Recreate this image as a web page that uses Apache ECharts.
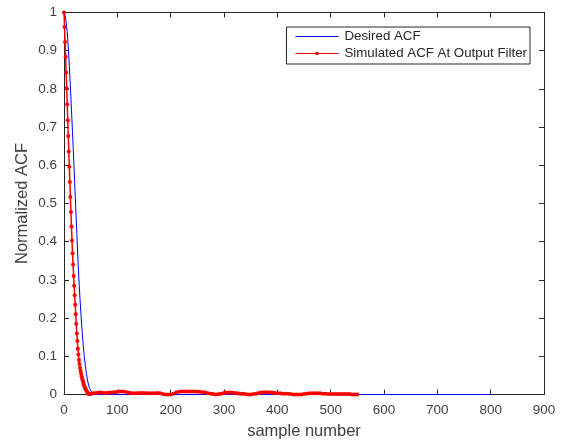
<!DOCTYPE html>
<html>
<head>
<meta charset="utf-8">
<script src="https://cdn.jsdelivr.net/npm/echarts@6/dist/echarts.min.js"></script>
<style>html,body{margin:0;padding:0;background:#fff}#c{width:565px;height:441px}</style>
</head>
<body>
<div id="c"></div>
<script>
// Desired ACF: [sample, value]
const desiredSamples = [0,2,4,6,8,10,12,14,16,18,20,22,24,26,28,30,32,34,36,38,40,42,44,46,48,50,52,54,56,58,800];
const desiredValues  = [1,0.993,0.975,0.95,0.91,0.86,0.805,0.745,0.685,0.62,0.555,0.49,0.425,0.36,0.30,0.25,0.205,0.165,0.13,0.10,0.075,0.055,0.038,0.025,0.016,0.01,0.006,0.003,0.001,0,0];

// Simulated ACF: decay part (one value per sample 0..49)
const simHeadSamples = [0,1,2,3,4,5,6,7,8,9,10,11,12,13,14,15,16,17,18,19,20,21,22,23,24,25,26,27,28,29,30,31,32,33,34,35,36,37,38,39,40,41,42,43,44,45,46,47,48,49];
const simHeadValues  = [1,0.962,0.923,0.884,0.843,0.802,0.76,0.718,0.677,0.636,0.596,0.556,0.517,0.478,0.44,0.403,0.37,0.34,0.31,0.285,0.26,0.235,0.21,0.185,0.16,0.14,0.12,0.105,0.09,0.08,0.07,0.062,0.055,0.048,0.042,0.037,0.032,0.027,0.023,0.019,0.016,0.013,0.01,0.008,0.006,0.004,0.002,0.001,0.001,0.001];
// Simulated ACF: tail (every 5 samples, 50..550)
const simTailSamples = [50,55,60,65,70,75,80,85,90,95,100,105,110,115,120,125,130,135,140,145,150,155,160,165,170,175,180,185,190,195,200,205,210,215,220,225,230,235,240,245,250,255,260,265,270,275,280,285,290,295,300,305,310,315,320,325,330,335,340,345,350,355,360,365,370,375,380,385,390,395,400,405,410,415,420,425,430,435,440,445,450,455,460,465,470,475,480,485,490,495,500,505,510,515,520,525,530,535,540,545,550];
const simTailValues  = [0.001,0.003,0.004,0.005,0.005,0.004,0.004,0.005,0.005,0.006,0.007,0.008,0.008,0.007,0.005,0.004,0.003,0.003,0.004,0.004,0.004,0.003,0.003,0.003,0.003,0.004,0.003,0.001,0,0,0,0.002,0.005,0.007,0.008,0.008,0.008,0.008,0.008,0.008,0.007,0.007,0.006,0.005,0.003,0.002,0.001,0,0.001,0.002,0.004,0.005,0.005,0.005,0.004,0.003,0.002,0.002,0.001,0,0,0.001,0.002,0.004,0.005,0.006,0.006,0.006,0.005,0.004,0.003,0.003,0.002,0.002,0.002,0.001,0,0,0,0,0.001,0.002,0.003,0.003,0.003,0.003,0.003,0.002,0.002,0.001,0.001,0.001,0.001,0.001,0.001,0.001,0.001,0.001,0,0,0];

const xTicks = [0,100,200,300,400,500,600,700,800,900];
const yTicks = [0,0.1,0.2,0.3,0.4,0.5,0.6,0.7,0.8,0.9,1];

const zip = (a, b) => a.map((v, i) => [v, b[i]]);
const desiredData = zip(desiredSamples, desiredValues);
const simData = zip(simHeadSamples, simHeadValues).concat(zip(simTailSamples, simTailValues));

const axisColor = '#262626';
const labelColor = '#404040';
const font = 'Liberation Sans, Arial, sans-serif';

const boxAxis = {
  axisLine: {show: true, onZero: false, lineStyle: {color: axisColor, width: 1}},
  axisTick: {show: true, inside: true, length: 5, lineStyle: {color: axisColor}},
  splitLine: {show: false}
};

const chart = echarts.init(document.getElementById('c'), null, {renderer: 'canvas'});
chart.setOption({
  animation: false,
  backgroundColor: '#fff',
  grid: {left: 64, right: 21, top: 12.5, bottom: 46.5, containLabel: false, outerBoundsMode: 'none'},
  legend: {
    right: 35, top: 27,
    orient: 'vertical',
    itemWidth: 43, itemHeight: 14, itemGap: 4,
    padding: [3, 3, 4, 9],
    borderColor: '#262626', borderWidth: 1,
    backgroundColor: '#fff',
    textStyle: {fontFamily: font, fontSize: 13.3, color: '#262626', padding: [0, 0, 0, 1]},
    data: [
      {name: 'Desired ACF', icon: 'path://M0,0L43,0L43,1L0,1Z'},
      {name: 'Simulated ACF At Output Filter', icon: 'path://M0,1L43,1L43,2L0,2Z M20,0L23,0L23,3L20,3Z'}
    ]
  },
  xAxis: [Object.assign({
    type: 'value', min: 0, max: 900, interval: 100,
    name: 'sample number', nameLocation: 'middle', nameGap: 28, nameMoveOverlap: false,
    nameTextStyle: {fontFamily: font, fontSize: 16.5, color: labelColor},
    axisLabel: {fontFamily: font, fontSize: 13.5, color: labelColor, margin: 9,
      formatter: v => xTicks.includes(v) ? String(v) : ''}
  }, boxAxis), Object.assign({
    type: 'value', position: 'top', min: 0, max: 900, interval: 100,
    axisLabel: {show: false}
  }, boxAxis)],
  yAxis: [Object.assign({
    type: 'value', min: 0, max: 1, interval: 0.1,
    name: 'Normalized ACF', nameLocation: 'middle', nameGap: 33, nameRotate: 90, nameMoveOverlap: false,
    nameTextStyle: {fontFamily: font, fontSize: 16.5, color: labelColor},
    axisLabel: {fontFamily: font, fontSize: 13.5, color: labelColor, margin: 7,
      formatter: v => { const r = Math.round(v * 10) / 10; return yTicks.includes(r) ? String(r) : ''; }}
  }, boxAxis), Object.assign({
    type: 'value', position: 'right', min: 0, max: 1, interval: 0.1,
    axisLabel: {show: false}
  }, boxAxis)],
  series: [{
    name: 'Desired ACF', type: 'line', xAxisIndex: 0, yAxisIndex: 0,
    data: desiredData, showSymbol: false, symbol: 'none',
    lineStyle: {color: '#0000ff', width: 1}, itemStyle: {color: '#0000ff'},
    z: 2
  }, {
    name: 'Simulated ACF At Output Filter', type: 'line', xAxisIndex: 0, yAxisIndex: 0,
    data: simData, showSymbol: true, showAllSymbol: true,
    symbol: 'circle', symbolSize: 4,
    lineStyle: {color: '#ff0000', width: 1.5}, itemStyle: {color: '#ff0000'},
    z: 3
  }]
});
</script>
</body>
</html>
